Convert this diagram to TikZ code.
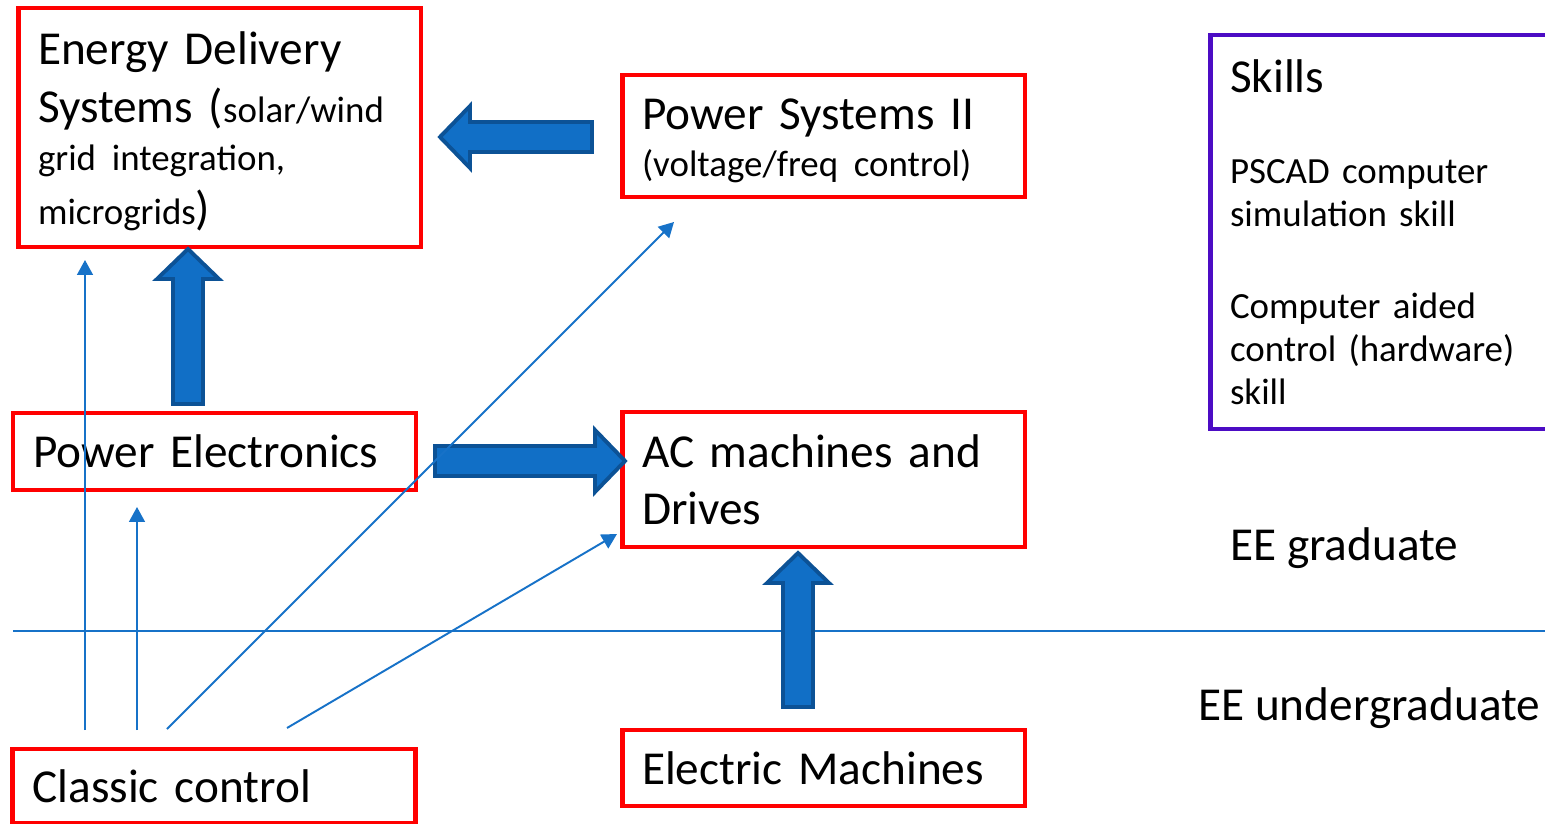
\documentclass[tikz,border=0pt]{standalone}
\usepackage{fontspec}
\setmainfont{Carlito}
\usetikzlibrary{arrows.meta,calc}
\definecolor{boxred}{RGB}{255,0,0}
\definecolor{skillviolet}{RGB}{76,12,196}
\definecolor{linkblue}{RGB}{23,114,200}
\definecolor{arrowfill}{RGB}{17,111,198}
\definecolor{arrowedge}{RGB}{12,82,150}
\newcommand{\detailfont}{\fontsize{21}{24.4}\selectfont}

\begin{document}
\begin{tikzpicture}[
  x=0.02cm, y=-0.02cm,
  course/.style={rectangle, draw=boxred, line width=2.8pt, minimum width=8.06cm, text width=7.26cm, inner xsep=0.4cm, inner ysep=0pt, align=left, font=\fontsize{26.9}{32.3}\selectfont},
  level/.style={inner sep=0pt, anchor=base west, font=\fontsize{26.9}{32.3}\selectfont},
  link/.style={draw=linkblue, line width=1.1pt, -{Triangle[length=8.5pt, width=9pt]}},
  blockarrow/.style={draw=arrowedge, fill=arrowfill, line width=2.2pt, line join=miter,
    to path={($(\tikztotarget)!0.6cm!(\tikztostart)$) coordinate (neck)
      ($(\tikztostart)!0.3cm!90:(\tikztotarget)$) -- ($(neck)!0.3cm!90:(\tikztotarget)$)
      -- ($(neck)!0.62cm!90:(\tikztotarget)$) -- (\tikztotarget)
      -- ($(neck)!0.62cm!-90:(\tikztotarget)$) -- ($(neck)!0.3cm!-90:(\tikztotarget)$)
      -- ($(\tikztostart)!0.3cm!-90:(\tikztotarget)$) -- cycle}},
]
  \fill[white] (0,0) rectangle (1545,824);
  \clip (0,0) rectangle (1545,824);

  % graduate / undergraduate divider
  \draw[linkblue, line width=1.1pt] (13,631) -- (1545,631);

  % graduate courses
  \node[course, minimum height=4.78cm] (energy) at (219.5,127.5) {\rule{0pt}{23pt}Energy Delivery\\[1pt]Systems ({\detailfont solar/wind}\\[-5pt]{\detailfont grid integration,}\\[-1.7pt]{\detailfont microgrids})};
  \node[course, minimum height=2.44cm] (ps2) at (823.5,136) {\rule{0pt}{23pt}Power Systems II\\[-5.6pt]{\detailfont (voltage/freq control)}};
  \node[course, minimum height=1.54cm] (pe) at (214.5,451.5) {Power Electronics};
  \node[course, minimum height=2.7cm] (ac) at (823.5,479.5) {AC machines and\\Drives};

  % undergraduate courses
  \node[course, minimum height=1.52cm] (em) at (823.5,768) {Electric Machines};
  \node[course, minimum height=1.48cm] (classic) at (214,786) {Classic control};

  % skills
  \node[course, draw=skillviolet, minimum width=7.4cm, text width=6.6cm, minimum height=7.88cm, font=\detailfont] (skills) at (1395,232) {{\fontsize{26.9}{32.3}\selectfont Skills}\\[27.8pt]PSCAD computer\\simulation skill\\[27.8pt]Computer aided\\control (hardware)\\skill};

  \node[level] (grad) at (1230,560) {EE graduate};
  \node[level] (undergrad) at (1198,720) {EE undergraduate};

  % block arrows
  \coordinate (ps2Out) at (592,137);  \coordinate (energyInR) at (440,137);
  \coordinate (peUp) at (188,404);    \coordinate (energyInB) at (188,249);
  \coordinate (peOut) at (435,461);   \coordinate (acInL) at (625,461);
  \coordinate (emUp) at (798,707);    \coordinate (acInB) at (798,553);
  \draw[blockarrow] (ps2Out) to (energyInR);
  \draw[blockarrow] (peUp) to (energyInB);
  \draw[blockarrow] (peOut) to (acInL);
  \draw[blockarrow] (emUp) to (acInB);

  % classic control feeds
  \coordinate (cc1) at (85,730);   \coordinate (toEnergy) at (85,260);
  \coordinate (cc2) at (137,730);  \coordinate (toPe) at (137,507);
  \coordinate (cc3) at (167,729);  \coordinate (toPs2) at (674,222);
  \coordinate (cc4) at (287,728);  \coordinate (toAc) at (617,534);
  \draw[link] (cc1) -- (toEnergy);
  \draw[link] (cc2) -- (toPe);
  \draw[link] (cc3) -- (toPs2);
  \draw[link] (cc4) -- (toAc);
\end{tikzpicture}
\end{document}
